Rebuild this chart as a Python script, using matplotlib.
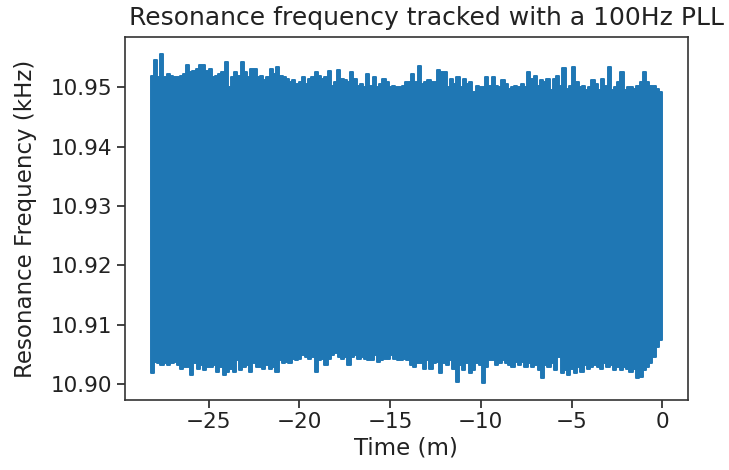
import matplotlib
matplotlib.use("Agg")
import matplotlib.pyplot as plt
import numpy as np

# upper edge of the tracked frequency band (kHz), left to right
upper_khz = [
    10.9520, 10.9546, 10.9518, 10.9557, 10.9518, 10.9523, 10.9520, 10.9518, 10.9518, 10.9520,
    10.9523, 10.9537, 10.9526, 10.9528, 10.9531, 10.9537, 10.9537, 10.9528, 10.9531, 10.9518,
    10.9520, 10.9523, 10.9526, 10.9543, 10.9501, 10.9518, 10.9526, 10.9520, 10.9543, 10.9526,
    10.9518, 10.9531, 10.9531, 10.9518, 10.9520, 10.9512, 10.9518, 10.9531, 10.9523, 10.9534,
    10.9520, 10.9518, 10.9515, 10.9509, 10.9512, 10.9506, 10.9509, 10.9518, 10.9506, 10.9515,
    10.9518, 10.9526, 10.9520, 10.9515, 10.9518,
    10.9528, 10.9503, 10.9509, 10.9530, 10.9515, 10.9512, 10.9509, 10.9526, 10.9515, 10.9503,
    10.9506, 10.9501, 10.9523, 10.9503, 10.9518, 10.9501, 10.9506, 10.9515, 10.9509, 10.9501,
    10.9503, 10.9501, 10.9501, 10.9503, 10.9509, 10.9509, 10.9523, 10.9509, 10.9536, 10.9506,
    10.9509, 10.9512, 10.9509, 10.9509, 10.9530, 10.9526, 10.9526, 10.9501, 10.9515, 10.9506,
    10.9518, 10.9501, 10.9515, 10.9506, 10.9509, 10.9492, 10.9503, 10.9501, 10.9501, 10.9518,
    10.9503,
    10.9518, 10.9503, 10.9501, 10.9512, 10.9506, 10.9498, 10.9501, 10.9503, 10.9501, 10.9506,
    10.9501, 10.9526, 10.9515, 10.9520, 10.9503, 10.9512, 10.9509, 10.9515, 10.9495, 10.9515,
    10.9520, 10.9503, 10.9532, 10.9498, 10.9503, 10.9534, 10.9509, 10.9501, 10.9503, 10.9495,
    10.9501, 10.9512, 10.9506, 10.9495, 10.9515, 10.9503, 10.9534, 10.9495, 10.9501, 10.9509,
    10.9526, 10.9495, 10.9501, 10.9501, 10.9498, 10.9503, 10.9509, 10.9526, 10.9509, 10.9503,
    10.9503, 10.9498, 10.9492,
]

# lower edge of the band (kHz), left to right
lower_khz = [
    10.9018, 10.9037, 10.9035, 10.9032, 10.9035, 10.9032, 10.9035, 10.9037, 10.9032, 10.9026,
    10.9029, 10.9029, 10.9015, 10.9035, 10.9026, 10.9032, 10.9024, 10.9029, 10.9029, 10.9032,
    10.9021, 10.9029, 10.9015, 10.9021, 10.9026, 10.9021, 10.9040, 10.9024, 10.9029, 10.9032,
    10.9021, 10.9035, 10.9029, 10.9029, 10.9026, 10.9032, 10.9026, 10.9029, 10.9021, 10.9040,
    10.9035, 10.9037, 10.9035, 10.9043, 10.9040, 10.9043, 10.9049, 10.9046, 10.9043, 10.9046,
    10.9021, 10.9040, 10.9043, 10.9032, 10.9043, 10.9049, 10.9052, 10.9046, 10.9043, 10.9046,
    10.9032, 10.9046, 10.9049, 10.9043, 10.9046, 10.9043, 10.9040, 10.9040, 10.9049, 10.9037,
    10.9040, 10.9043, 10.9043, 10.9049, 10.9043, 10.9040, 10.9040, 10.9043, 10.9040, 10.9032,
    10.9029, 10.9035, 10.9035, 10.9026, 10.9040, 10.9026, 10.9035, 10.9037, 10.9018, 10.9035,
    10.9032, 10.9040, 10.9026, 10.9004, 10.9032, 10.9024, 10.9035, 10.9018, 10.9024, 10.9035,
    10.9032, 10.9001, 10.9029,
    10.9040, 10.9040, 10.9032, 10.9035, 10.9040, 10.9035, 10.9032, 10.9029, 10.9037, 10.9032,
    10.9037, 10.9029, 10.9035, 10.9029, 10.9032, 10.9024, 10.9010, 10.9032, 10.9029, 10.9035,
    10.9024, 10.9046, 10.9018, 10.9024, 10.9015, 10.9026, 10.9018, 10.9029, 10.9021, 10.9032,
    10.9026, 10.9029, 10.9032, 10.9029, 10.9026, 10.9035, 10.9029, 10.9032, 10.9024, 10.9029,
    10.9024, 10.9029, 10.9026, 10.9021, 10.9026, 10.9010, 10.9012, 10.9024, 10.9029, 10.9035,
    10.9046, 10.9063, 10.9074,
]

t_start, t_end = -28.2, 0.0   # minutes
yticks = [10.90, 10.91, 10.92, 10.93, 10.94, 10.95]
xticks = [-25, -20, -15, -10, -5, 0]


def stepped(vals):
    # hold each reading over its own time slot, like the dense trace does
    n = len(vals)
    edges = np.linspace(t_start, t_end, n + 1)
    xs = np.empty(2 * n)
    xs[0::2] = edges[:-1]
    xs[1::2] = edges[1:]
    return xs, np.repeat(vals, 2)


fig = plt.figure(figsize=(7.29, 4.70), dpi=100)
ax = fig.add_axes([0.1715, 0.149, 0.772, 0.772])

tu, yu = stepped(upper_khz)
tl, yl = stepped(lower_khz)
# the signal is too dense to resolve, so draw the band it fills
ax.fill(np.concatenate([tu, tl[::-1]]), np.concatenate([yu, yl[::-1]]),
        color="#1f77b4", linewidth=1.4, joinstyle="round")

ax.set_yticks(yticks)
ax.set_yticklabels(["%.2f" % v for v in yticks])
ax.set_xticks(xticks)
ax.set_xticklabels(["\u2212%d" % -v if v < 0 else "%d" % v for v in xticks])

ax.tick_params(labelsize=15.5, length=5.5, width=1.2, colors="#222222")
for s in ax.spines.values():
    s.set_linewidth(1.2)
    s.set_color("#333333")

ax.set_title("Resonance frequency tracked with a 100Hz PLL", fontsize=18, color="#222222",
             pad=9, x=0.535)
ax.set_xlabel("Time (m)", fontsize=16.5, color="#222222", labelpad=3)
ax.set_ylabel("Resonance Frequency (kHz)", fontsize=16.5, color="#222222", labelpad=10)

fig.savefig("out.png", dpi=100)
